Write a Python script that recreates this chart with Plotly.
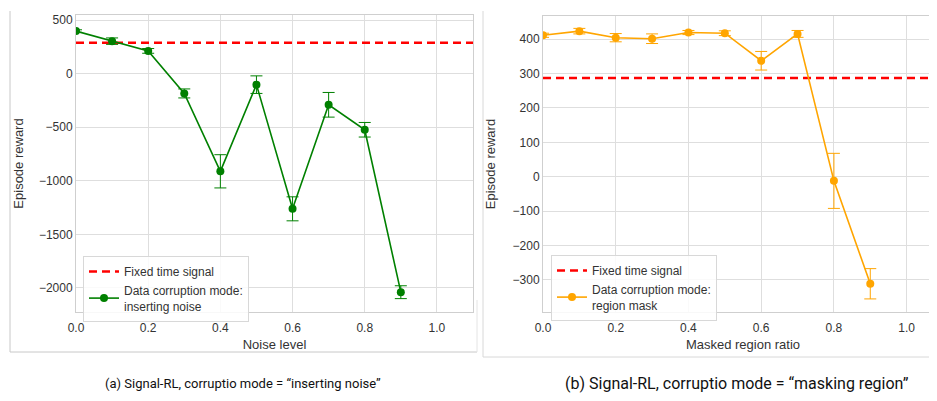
import plotly.graph_objects as go

W, H = 937, 401
PAGE_OFFSET = 8  # default body margin of the html page

# ---- data ----
noise_level = [0.0, 0.1, 0.2, 0.3, 0.4, 0.5, 0.6, 0.7, 0.8, 0.9]
noise_reward = [397, 303, 212, -185, -912, -103, -1262, -291, -524, -2040]
noise_err = [12, 30, 22, 42, 155, 82, 112, 115, 68, 60]

mask_ratio = [0.0, 0.1, 0.2, 0.3, 0.4, 0.5, 0.6, 0.7, 0.8, 0.9]
mask_reward = [411, 423, 404, 401, 419, 417, 337, 415, -12, -311]
mask_err = [6, 8, 12, 14, 6, 7, 27, 10, 80, 44]

fixed_signal = 287

x_ticks = [0.0, 0.2, 0.4, 0.6, 0.8, 1.0]
left_y_ticks = [500, 0, -500, -1000, -1500, -2000]
right_y_ticks = [400, 300, 200, 100, 0, -100, -200, -300]

left_xrange = [0, 1.1]
right_xrange = [0, 1.1]
left_yrange = [-2225, 547]
right_yrange = [-393, 467]

captions = ["(a) Signal-RL, corruptio mode = \u201cinserting noise\u201d",
            "(b) Signal-RL, corruptio mode = \u201cmasking region\u201d"]

# ---- figure ----
GREEN = "#008000"
ORANGE = "#FFA500"
RED = "#FF0000"
GRID = "#dedede"
SPINE = "#cfcfcf"
TXT = "#333333"
FONT = "Arial"

fig = go.Figure()

fig.add_trace(go.Scatter(
    x=left_xrange, y=[fixed_signal, fixed_signal], mode="lines",
    line=dict(color=RED, width=2.5, dash="8px,5px"),
    name="Fixed time signal", xaxis="x", yaxis="y", legend="legend"))
fig.add_trace(go.Scatter(
    x=noise_level, y=noise_reward, mode="lines+markers",
    line=dict(color=GREEN, width=1.6), marker=dict(color=GREEN, size=8),
    error_y=dict(type="data", array=noise_err, color=GREEN, thickness=1, width=6),
    name="Data corruption mode:<br>inserting noise", xaxis="x", yaxis="y", legend="legend"))

fig.add_trace(go.Scatter(
    x=right_xrange, y=[fixed_signal, fixed_signal], mode="lines",
    line=dict(color=RED, width=2.5, dash="8px,5px"),
    name="Fixed time signal", xaxis="x2", yaxis="y2", legend="legend2"))
fig.add_trace(go.Scatter(
    x=mask_ratio, y=mask_reward, mode="lines+markers",
    line=dict(color=ORANGE, width=1.6), marker=dict(color=ORANGE, size=8),
    error_y=dict(type="data", array=mask_err, color=ORANGE, thickness=1, width=6),
    name="Data corruption mode:<br>region mask", xaxis="x2", yaxis="y2", legend="legend2"))


def px_x(p):
    return (p - PAGE_OFFSET) / W


def px_y(p):
    return 1 - (p - PAGE_OFFSET) / H


axis_common = dict(
    showgrid=True, gridcolor=GRID, gridwidth=1,
    showline=True, linecolor=SPINE, linewidth=1, mirror=True,
    zeroline=False, ticks="", automargin=False,
    tickfont=dict(size=12, color=TXT, family=FONT),
    title_font=dict(size=13, color=TXT, family=FONT),
)

fig.update_layout(
    width=W, height=H,
    margin=dict(l=0, r=0, t=0, b=0, autoexpand=False),
    paper_bgcolor="white", plot_bgcolor="white",
    font=dict(family=FONT, color=TXT),
    xaxis=dict(domain=[px_x(76), px_x(473)], range=left_xrange, tickvals=x_ticks,
               tickformat=".1f", ticklabelstandoff=5,
               title=dict(text="Noise level", standoff=5),
               anchor="y", **axis_common),
    yaxis=dict(domain=[px_y(312), px_y(15)], range=left_yrange, tickvals=left_y_ticks,
               title=dict(text="Episode reward", standoff=12), anchor="x", **axis_common),
    xaxis2=dict(domain=[px_x(543), px_x(943)], range=right_xrange, tickvals=x_ticks,
                tickformat=".1f", ticklabelstandoff=5,
                title=dict(text="Masked region ratio", standoff=5),
                anchor="y2", **axis_common),
    yaxis2=dict(domain=[px_y(312), px_y(16)], range=right_yrange, tickvals=right_y_ticks,
                title=dict(text="Episode reward", standoff=14), anchor="x2", **axis_common),
    legend=dict(x=px_x(83), y=px_y(256), xanchor="left", yanchor="top",
                bgcolor="rgba(255,255,255,0.85)", bordercolor="#d8d8d8", borderwidth=1,
                font=dict(size=12, color=TXT, family=FONT), tracegroupgap=0),
    legend2=dict(x=px_x(551), y=px_y(255), xanchor="left", yanchor="top",
                 bgcolor="rgba(255,255,255,0.85)", bordercolor="#d8d8d8", borderwidth=1,
                 font=dict(size=12, color=TXT, family=FONT), tracegroupgap=0),
    showlegend=True,
)

# captions
fig.add_annotation(text=captions[0], x=px_x(103), y=px_y(383), xref="paper", yref="paper",
                   showarrow=False, font=dict(family="Roboto", size=13, color="#111111"),
                   xanchor="left", yanchor="middle")
fig.add_annotation(text=captions[1], x=px_x(563), y=px_y(383), xref="paper", yref="paper",
                   showarrow=False, font=dict(family="Roboto", size=16, color="#111111"),
                   xanchor="left", yanchor="middle")

# panel frames (screenshot borders)
frame = dict(color="#c8c8c8", width=1)
fig.add_shape(type="line", xref="paper", yref="paper", x0=px_x(10), x1=px_x(10),
              y0=px_y(11), y1=px_y(352), line=frame)
fig.add_shape(type="line", xref="paper", yref="paper", x0=px_x(10), x1=px_x(477),
              y0=px_y(352), y1=px_y(352), line=frame)
fig.add_shape(type="line", xref="paper", yref="paper", x0=px_x(477), x1=px_x(477),
              y0=px_y(300), y1=px_y(352), line=dict(color="#e4e4e4", width=1))
fig.add_shape(type="line", xref="paper", yref="paper", x0=px_x(483), x1=px_x(483),
              y0=px_y(11), y1=px_y(357), line=dict(color="#d8d8d8", width=1))
fig.add_shape(type="line", xref="paper", yref="paper", x0=px_x(483), x1=1,
              y0=px_y(357), y1=px_y(357), line=dict(color="#d8d8d8", width=1))

fig.write_html("out.html")
